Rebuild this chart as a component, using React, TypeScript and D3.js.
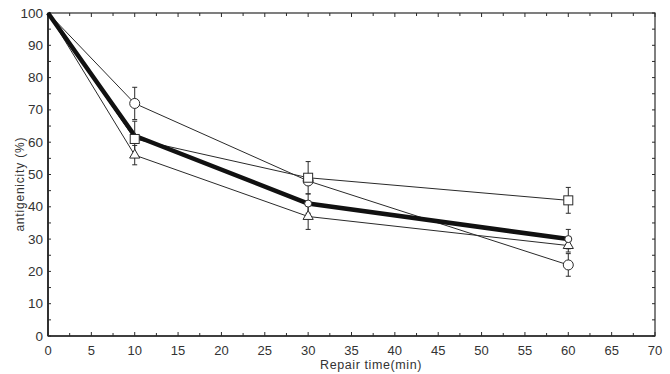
import React from "react";
import * as d3 from "d3";

const times = [0, 10, 30, 60];
const circleVals = [100, 72, 48, 22];
const circleErr = [0, 5, 0, 3.5];
const squareVals = [100, 61, 49, 42];
const squareErr = [0, 5.5, 5, 4];
const triangleVals = [100, 56, 37, 28];
const triangleErr = [0, 3, 4, 2];
const meanVals = [100, 62, 41, 30];
const meanErr = [0, 0, 3, 3];

const xTicks = d3.range(0, 71, 5);
const yTicks = d3.range(0, 101, 10);

const W = 670;
const H = 374;
const M = { left: 48, right: 15, top: 13, bottom: 38 };

export default function App() {
  const x = d3.scaleLinear().domain([0, 70]).range([M.left, W - M.right]);
  const y = d3.scaleLinear().domain([0, 100]).range([H - M.bottom, M.top]);
  const line = d3
    .line<number>()
    .x((_, i) => x(times[i]))
    .y((v) => y(v));

  const ink = "#2a2a2a";

  const errBar = (vals: number[], errs: number[], key: string) =>
    vals.map((v, i) =>
      errs[i] > 0 ? (
        <g key={key + i} stroke={ink} strokeWidth={1}>
          <line x1={x(times[i])} x2={x(times[i])} y1={y(v - errs[i])} y2={y(v + errs[i])} />
          <line x1={x(times[i]) - 2.5} x2={x(times[i]) + 2.5} y1={y(v - errs[i])} y2={y(v - errs[i])} />
          <line x1={x(times[i]) - 2.5} x2={x(times[i]) + 2.5} y1={y(v + errs[i])} y2={y(v + errs[i])} />
        </g>
      ) : null
    );

  const tri = d3.symbol().type(d3.symbolTriangle).size(45)();

  return (
    <svg width={W} height={H} style={{ position: "absolute", left: 0, top: 0 }}>
      <rect width={W} height={H} fill="#fff" />
      <g fontFamily="Liberation Sans" fontSize={13} fill="#333">
        {/* frame */}
        <rect
          x={M.left}
          y={M.top}
          width={W - M.left - M.right}
          height={H - M.top - M.bottom}
          fill="none"
          stroke={ink}
          strokeWidth={1.2}
        />
        <line x1={x(0)} x2={x(0)} y1={y(0)} y2={y(100)} stroke={ink} strokeWidth={1.8} />
        <line x1={x(0)} x2={x(70)} y1={y(0)} y2={y(0)} stroke={ink} strokeWidth={1.6} />
        {/* x ticks */}
        {d3.range(0, 70.1, 2.5).map((t) => (
          <g key={"xt" + t} stroke={ink}>
            <line x1={x(t)} x2={x(t)} y1={y(0)} y2={y(0) - (t % 5 === 0 ? 4 : 3)} />
            <line x1={x(t)} x2={x(t)} y1={y(100)} y2={y(100) + (t % 5 === 0 ? 4 : 3)} />
          </g>
        ))}
        {xTicks.map((t) => (
          <text key={"xl" + t} x={x(t)} y={y(0) + 19} textAnchor="middle">
            {t}
          </text>
        ))}
        {/* y ticks */}
        {d3.range(0, 100.1, 5).map((t) => (
          <g key={"yt" + t} stroke={ink}>
            <line x1={x(0)} x2={x(0) + 3} y1={y(t)} y2={y(t)} />
            <line x1={x(70)} x2={x(70) - 3} y1={y(t)} y2={y(t)} />
          </g>
        ))}
        {yTicks.map((t) => (
          <text key={"yl" + t} x={x(0) - 5} y={y(t) + 4.5} textAnchor="end" fontSize={13.5}>
            {t}
          </text>
        ))}
        <text
          transform={`translate(24,${y(47)}) rotate(-90)`}
          textAnchor="middle"
          fontSize={12}
          letterSpacing={0.8}
        >
          antigenicity (%)
        </text>
        <text x={371} y={369} textAnchor="middle" fontSize={12.5} letterSpacing={0.6}>
          Repair time(min)
        </text>

        {/* series lines */}
        <path d={line(circleVals) ?? ""} fill="none" stroke={ink} strokeWidth={1} />
        <path d={line(squareVals) ?? ""} fill="none" stroke={ink} strokeWidth={1} />
        <path d={line(triangleVals) ?? ""} fill="none" stroke={ink} strokeWidth={1} />
        <path d={line(meanVals) ?? ""} fill="none" stroke="#111" strokeWidth={4.5} strokeLinejoin="round" />

        {errBar(circleVals, circleErr, "ce")}
        {errBar(squareVals, squareErr, "se")}
        {errBar(triangleVals, triangleErr, "te")}
        {errBar(meanVals, meanErr, "me")}

        {/* markers */}
        {circleVals.slice(1).map((v, i) => (
          <circle key={"c" + i} cx={x(times[i + 1])} cy={y(v)} r={5} fill="#fff" stroke={ink} />
        ))}
        {squareVals.slice(1).map((v, i) => (
          <rect key={"s" + i} x={x(times[i + 1]) - 4.5} y={y(v) - 4.5} width={9} height={9} fill="#fff" stroke={ink} />
        ))}
        {triangleVals.slice(1).map((v, i) => (
          <path
            key={"t" + i}
            d={tri ?? ""}
            transform={`translate(${x(times[i + 1])},${y(v)})`}
            fill="#fff"
            stroke={ink}
          />
        ))}
        {meanVals.slice(2).map((v, i) => (
          <circle key={"m" + i} cx={x(times[i + 2])} cy={y(v)} r={3.5} fill="#fff" stroke={ink} />
        ))}
      </g>
    </svg>
  );
}
